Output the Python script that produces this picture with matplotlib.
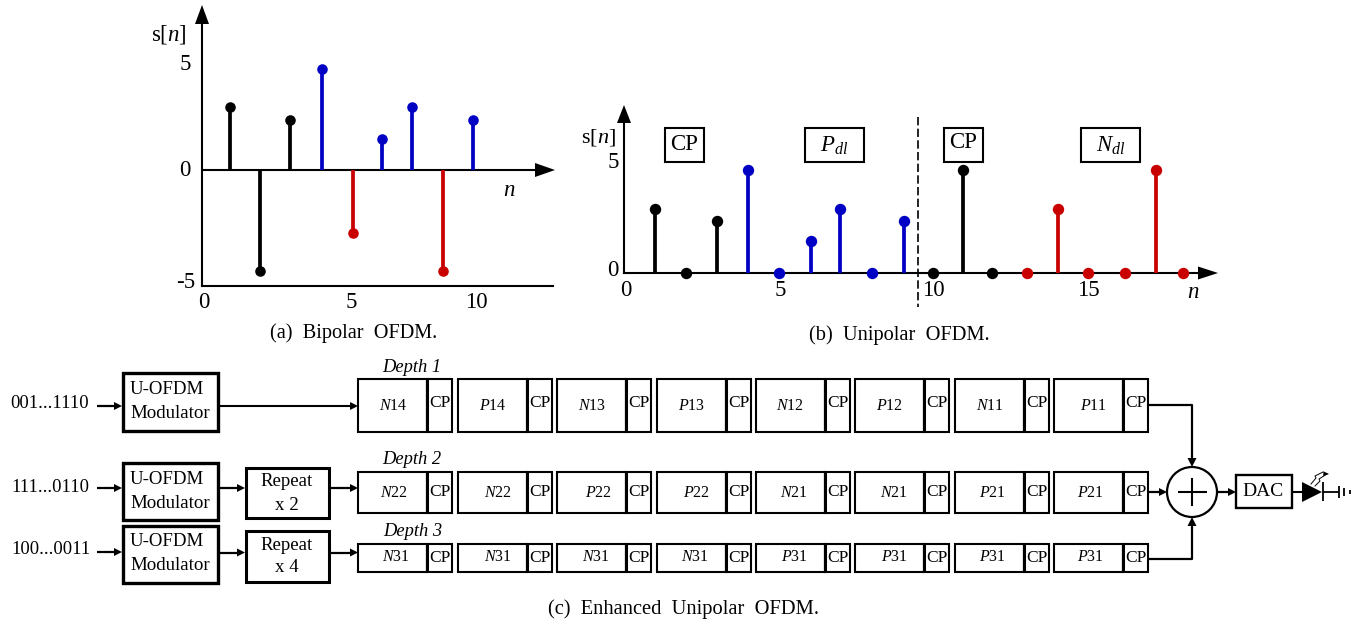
import matplotlib
matplotlib.use("Agg")
import matplotlib.pyplot as plt
from matplotlib.patches import Rectangle, Polygon, Circle

plt.rcParams['font.family'] = ['Liberation Serif', 'DejaVu Serif']
plt.rcParams['mathtext.fontset'] = 'custom'
plt.rcParams['mathtext.rm'] = 'Liberation Serif'
plt.rcParams['mathtext.it'] = 'Liberation Serif:italic'
plt.rcParams['mathtext.bf'] = 'Liberation Serif:bold'

# ---- data: bipolar OFDM
a_cp_n = [1, 1.98, 2.97]
a_cp_s = [3.0, -4.8, 2.4]
a_pos_n = [4.02, 5.98, 6.98, 8.97]
a_pos_s = [4.8, 1.5, 3.0, 2.4]
a_neg_n = [5.03, 7.97]
a_neg_s = [-3.0, -4.8]

# ---- data: unipolar OFDM
b_cp1_n = [1, 2, 3]
b_cp1_s = [3.0, 0, 2.4]
b_pos_n = [4, 4.98, 6.01, 6.95, 7.98, 9.01]
b_pos_s = [4.8, 0, 1.5, 3.0, 0, 2.4]
b_cp2_n = [9.95, 10.92, 11.85]
b_cp2_s = [0, 4.8, 0]
b_neg_n = [12.98, 13.98, 14.94, 16.13, 17.13, 18.0]
b_neg_s = [0, 3.0, 0, 0, 4.8, 0]

# ---- data: frame labels of the enhanced U-OFDM diagram
depth_labels = ['Depth 1', 'Depth 2', 'Depth 3']
bit_labels = ['001...1110', '111...0110', '100...0011']
row1_labels = [('N', '14'), ('P', '14'), ('N', '13'), ('P', '13'), ('N', '12'), ('P', '12'), ('N', '11'), ('P', '11')]
row2_labels = [('N', '22'), ('N', '22'), ('P', '22'), ('P', '22'), ('N', '21'), ('N', '21'), ('P', '21'), ('P', '21')]
row3_labels = [('N', '31'), ('N', '31'), ('N', '31'), ('N', '31'), ('P', '31'), ('P', '31'), ('P', '31'), ('P', '31')]

W, H = 1358, 624
BLUE, RED, BLACK = '#0000c4', '#c80000', '#000000'
fig = plt.figure(figsize=(W / 100, H / 100), dpi=100)

# overlay in picture pixels for the block diagram, arrows and free text
ov = fig.add_axes([0, 0, 1, 1], zorder=0)
ov.set_xlim(0, W)
ov.set_ylim(H, 0)
ov.axis('off')


def text(x, y, s, size=13.5, **kw):
    kw.setdefault('ha', 'center')
    kw.setdefault('va', 'center')
    ov.text(x, y, s, fontsize=size, **kw)


def box(x0, y0, x1, y1, lw=1.5, z=2):
    ov.add_patch(Rectangle((x0, y0), x1 - x0, y1 - y0, fc='white', ec='black', lw=lw, zorder=z))


def line(xs, ys, lw=1.5, z=3, **kw):
    ov.plot(xs, ys, color='black', lw=lw, zorder=z, solid_capstyle='butt', **kw)


def head(x, y, dx, dy, length=8, width=8, z=4):
    """Arrow head with its tip at (x, y), pointing along (dx, dy)."""
    bx, by = x - dx * length, y - dy * length
    px, py = -dy * width / 2, dx * width / 2
    ov.add_patch(Polygon([(x, y), (bx + px, by + py), (bx - px, by - py)], fc='black', ec='none', zorder=z))


def arrow(x0, x1, y, lw=1.5):
    line([x0, x1 - 6], [y, y], lw=lw)
    head(x1, y, 1, 0)


def data_axes(left, right, top, bottom, xlim, ylim):
    ax = fig.add_axes([left / W, 1 - bottom / H, (right - left) / W, (bottom - top) / H], zorder=1)
    ax.set_xlim(*xlim)
    ax.set_ylim(*ylim)
    ax.patch.set_visible(False)
    for side in ('top', 'right'):
        ax.spines[side].set_visible(False)
    for side in ('left', 'bottom'):
        ax.spines[side].set_linewidth(1.5)
    ax.set_xticks([])
    ax.set_yticks([])
    return ax


def stems(ax, n, s, color, ms=7.6, lw=2.7):
    ax.vlines(n, 0, s, colors=color, lw=lw, zorder=3, clip_on=False)
    ax.plot(n, s, 'o', color=color, ms=ms, mew=0, zorder=4, clip_on=False)


# ---- (a) bipolar
ax_a = data_axes(202, 553, 20, 286, (0.082, 11.59), (-5.52, 7.14))
stems(ax_a, a_cp_n, a_cp_s, BLACK)
stems(ax_a, a_pos_n, a_pos_s, BLUE)
stems(ax_a, a_neg_n, a_neg_s, RED)
line([202, 538], [170, 170])
head(202, 5, 0, -1, 19, 14)
head(555, 170, 1, 0, 20, 14)
text(169, 34, r's[$\mathit{n}$]', 16.5)
text(185, 64, '5', 16.5)
text(185, 170, '0', 16.5)
text(186, 282, '-5', 16.5)
text(204, 302, '0', 16.5)
text(351, 302, '5', 16.5)
text(476, 302, '10', 16.5)
text(509, 190, r'$\mathit{n}$', 16.5)
text(353.5, 333, '(a)  Bipolar  OFDM.', 14.6)

# ---- (b) unipolar
ax_b = data_axes(624, 1205, 120, 273, (0.002, 18.71), (0, 153 / 21.5))
stems(ax_b, b_cp1_n, b_cp1_s, BLACK, ms=8.2)
stems(ax_b, b_pos_n, b_pos_s, BLUE, ms=8.2)
stems(ax_b, b_cp2_n, b_cp2_s, BLACK, ms=8.2)
stems(ax_b, b_neg_n, b_neg_s, RED, ms=8.2)
head(624, 105, 0, -1, 18, 14)
head(1218, 273, 1, 0, 20, 13)
line([917.5, 917.5], [117, 307], lw=1.2, linestyle=(0, (5, 2)))
text(598, 138, r's[$\mathit{n}$]', 16)
text(613, 163, '5', 16.5)
text(613, 271, '0', 16.5)
text(626, 291, '0', 16.5)
text(780, 291, '5', 16.5)
text(933, 291, '10', 16.5)
text(1088, 291, '15', 16.5)
text(1193, 293, r'$\mathit{n}$', 16.5)
for x0, x1, ly, label in [(665, 703.5, 145, 'CP'), (805, 864, 146, r'$\mathit{P}_{\mathit{dl}}$'),
                          (943.6, 982.5, 143, 'CP'), (1081, 1140, 146, r'$\mathit{N}_{\mathit{dl}}$')]:
    box(x0, 128, x1, 162)
    text((x0 + x1) / 2, ly, label, 16.5)
text(899.6, 335, '(b)  Unipolar  OFDM.', 14.7)

# ---- (c) block diagram
frame_left = [358, 458, 557, 657, 756, 855, 955, 1054]
row_extent = [(379, 432), (472, 513), (544, 572)]
label_x = [[393, 493, 592, 692, 790, 889, 990, 1093],
           [394, 498, 598, 696, 794, 894, 992, 1090],
           [396, 498, 596, 695, 794, 894, 992, 1090]]
label_y = [406, 493, 557]
cp_y = [403, 492, 558]
depth_xy = [(412, 368), (412, 460), (413, 532)]
rows = [row1_labels, row2_labels, row3_labels]
for r, labels in enumerate(rows):
    y0, y1 = row_extent[r]
    for i, (sym, idx) in enumerate(labels):
        x0 = frame_left[i]
        box(x0, y0, x0 + 69, y1)
        box(x0 + 69, y0, x0 + 94, y1)
        line([x0 + 69, x0 + 69], [y0, y1], lw=2.2)
        text(label_x[r][i], label_y[r], rf'$\mathit{{{sym}}}${idx}', 11.5)
        text(x0 + 81.5, cp_y[r], 'CP', 12.5)
    text(*depth_xy[r], depth_labels[r], 13.3, style='italic')

bit_xy = [(50, 403), (50, 487), (51, 550)]
in_y = [406, 488, 552]
mod_y = [(373, 431), (463, 520), (526, 583)]
mod_text_y = [(390, 414), (480, 504), (542, 566)]
for r in range(3):
    text(*bit_xy[r], bit_labels[r], 13.3)
    arrow(97, 122, in_y[r], lw=1.6)
    box(123, mod_y[r][0], 217.5, mod_y[r][1], lw=2.4)
    text(166.5, mod_text_y[r][0], 'U-OFDM', 13.6)
    text(170, mod_text_y[r][1], 'Modulator', 13.6)

for y0, y1, ty, label, py in [(468, 518, 482, 'x 2', 488), (531, 582, 546, 'x 4', 552.5)]:
    box(246, y0, 329, y1, lw=2.2)
    text(287, ty, 'Repeat', 13.6)
    text(287, ty + 24 if label == 'x 2' else ty + 22, label, 13.6)
    arrow(218, 245, py, lw=1.6)
    arrow(330, 358, py, lw=1.6)
arrow(218, 358, 406, lw=1.5)

# summer and output chain
cx, cy, rad = 1192, 492, 25
ov.add_patch(Circle((cx, cy), rad, fc='white', ec='black', lw=1.6, zorder=3))
line([1178, 1207], [cy, cy], z=4)
line([cx, cx], [478, 506], z=4)
line([1148, cx, cx], [405, 405, 462], lw=1.6)
head(cx, 467, 0, 1, 9, 9)
line([1148, cx, cx], [559, 559, 522], lw=1.6)
head(cx, 517, 0, -1, 9, 9)
arrow(1148, 1167, 492, lw=1.6)
arrow(1217, 1236, 492, lw=1.6)
box(1236, 475, 1292, 508, lw=1.7)
text(1263.5, 491, 'DAC', 14)
line([1292, 1303], [492, 492])
ov.add_patch(Polygon([(1302, 482), (1302, 502), (1322, 492)], fc='black', ec='none', zorder=4))
line([1323, 1323], [482, 501], lw=1.3)
line([1323, 1339], [492, 492], lw=1.3)
line([1339, 1339], [486, 498], lw=1.3)
line([1344, 1344], [488, 496], lw=1.3)
line([1350, 1350], [490, 494], lw=1.3)
ov.plot([1311, 1316, 1315, 1323], [484, 478, 476, 472], color='black', lw=0.7, zorder=4)
ov.plot([1315, 1320, 1319, 1327], [486, 481, 479, 474], color='black', lw=0.7, zorder=4)
head(1329, 474, 0.95, 0.05, 6, 5)
text(684, 609, '(c)  Enhanced  Unipolar  OFDM.', 14.76)

fig.savefig('out.png', dpi=100)
